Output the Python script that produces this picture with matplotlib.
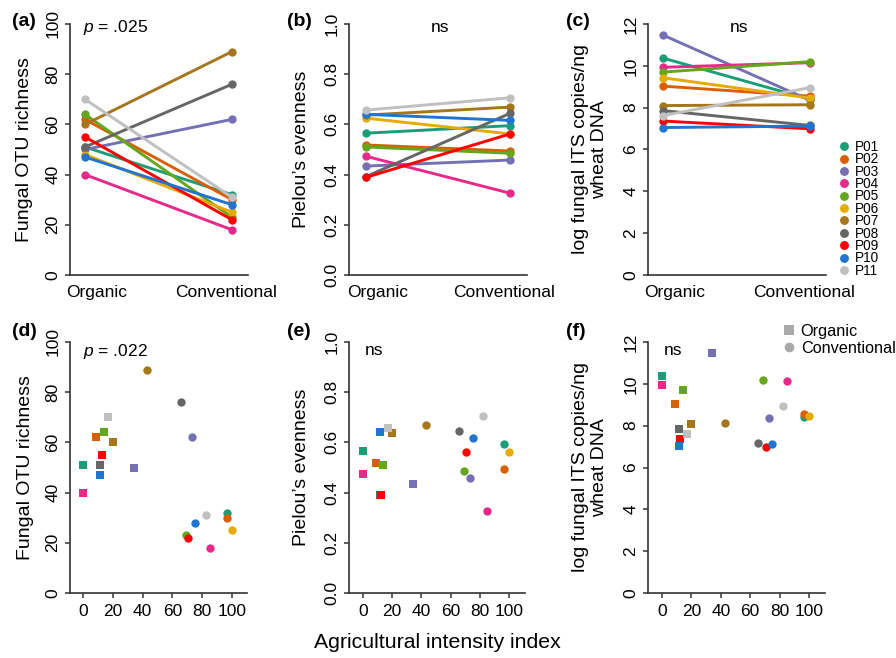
import numpy as np
import matplotlib
matplotlib.use("Agg")
import matplotlib.pyplot as plt
from matplotlib.lines import Line2D
from matplotlib.transforms import ScaledTranslation

plt.rcParams['font.family'] = ['Liberation Sans', 'DejaVu Sans']
plt.rcParams['mathtext.fontset'] = 'custom'
plt.rcParams['mathtext.it'] = 'Liberation Sans:italic'
plt.rcParams['mathtext.rm'] = 'Liberation Sans'

# ---------------- data ----------------
participants = ['P01', 'P02', 'P03', 'P04', 'P05', 'P06', 'P07', 'P08', 'P09', 'P10', 'P11']
colors = ['#1b9e77', '#d95f02', '#7570b3', '#e7298a', '#66a61e', '#e6ab02',
          '#a6761d', '#666666', '#ff0000', '#1f75d0', '#c0c0c0']
systems = ['Organic', 'Conventional']

richness_org = [51, 62, 50, 40, 64, 48, 60, 51, 55, 47, 70]
richness_conv = [32, 30, 62, 18, 23, 25, 89, 76, 22, 28, 31]

evenness_org = [0.565, 0.518, 0.434, 0.473, 0.510, 0.625, 0.637, 0.392, 0.389, 0.640, 0.657]
evenness_conv = [0.595, 0.494, 0.458, 0.326, 0.485, 0.562, 0.669, 0.644, 0.562, 0.616, 0.706]

its_org = [10.37, 9.03, 11.47, 9.93, 9.70, 9.43, 8.10, 7.86, 7.36, 7.05, 7.62]
its_conv = [8.40, 8.55, 8.35, 10.15, 10.20, 8.46, 8.14, 7.15, 6.99, 7.12, 8.96]

intensity_org = [0, 9, 34, 0, 14, np.nan, 20, 11.5, 12.5, 11.5, 17]
intensity_conv = [96.5, 96.5, 73, 85, 69, 100, 43, 65.5, 70.5, 75, 82.5]

ylabels = ['Fungal OTU richness', "Pielou\u2019s evenness", 'log fungal ITS copies/ng\nwheat DNA']
yticks_list = [np.arange(0, 101, 20), np.round(np.arange(0, 1.01, 0.2), 1), np.arange(0, 13, 2)]
ytick_fmt = ['{:.0f}', '{:.1f}', '{:.0f}']
ylims = [(0, 100), (0, 1.0), (0, 12)]
xticks_intensity = [0, 20, 40, 60, 80, 100]
annot_top = [r'$\it{p}$ = .025', 'ns', 'ns']
annot_bottom = [r'$\it{p}$ = .022', 'ns', 'ns']
panel_letters = ['(a)', '(b)', '(c)', '(d)', '(e)', '(f)']

# ---------------- layout ----------------
W, H = 896, 658
fig = plt.figure(figsize=(W / 100, H / 100), dpi=100)


def px_axes(x0, x1, y0, y1):
    return fig.add_axes([x0 / W, 1 - y1 / H, (x1 - x0) / W, (y1 - y0) / H])


spine_c = '#333333'
tick_fs = 12.5
lab_fs = 14

top_x = [(70, 248), (349, 527), (648, 826)]
top_xlim = [(0.898, 2.109), (0.882, 2.118), (0.898, 2.109)]
bot_x = [(70, 247), (349, 525), (648, 825)]
bot_xlim = [(-8.7, 110.1), (-9.5, 110.9), (-9.5, 110.9)]
ylabel_x = [25, 302, 590]

top_data = [(richness_org, richness_conv), (evenness_org, evenness_conv), (its_org, its_conv)]


def style(ax, i):
    for s in ['top', 'right']:
        ax.spines[s].set_visible(False)
    for s in ['left', 'bottom']:
        ax.spines[s].set_color(spine_c)
        ax.spines[s].set_linewidth(1.2)
    ax.set_ylim(*ylims[i])
    ax.set_yticks(yticks_list[i])
    ax.set_yticklabels([ytick_fmt[i].format(v) for v in yticks_list[i]])
    ax.tick_params(axis='y', length=3.6, width=1.1, color=spine_c, pad=3.2, labelsize=tick_fs)
    for lab in ax.get_yticklabels():
        lab.set_rotation(90)
        lab.set_va('center')
    ax.patch.set_alpha(0)


# top row
for i in range(3):
    x0, x1 = top_x[i]
    ax = px_axes(x0, x1, 24, 275)
    org, conv = top_data[i]
    for k, p in enumerate(participants):
        ax.plot([1, 2], [org[k], conv[k]], '-o', color=colors[k], lw=2.1,
                markersize=6.0, markeredgewidth=0, solid_capstyle='round', clip_on=False)
    ax.set_xlim(*top_xlim[i])
    style(ax, i)
    ax.set_xticks([1, 2])
    ax.set_xticklabels(systems)
    ax.tick_params(axis='x', length=0, pad=7.5, labelsize=tick_fs)
    offs = [0.12, -0.06]
    for lab, dx in zip(ax.get_xticklabels(), offs):
        lab.set_transform(lab.get_transform() + ScaledTranslation(dx, 0, fig.dpi_scale_trans))
    ax.set_ylabel(ylabels[i], fontsize=lab_fs, va='center')
    ax.yaxis.set_label_coords((ylabel_x[i] - x0) / (x1 - x0), 0.5)
    if i == 0:
        ax.text((83 - x0) / (x1 - x0), 0.988, annot_top[i], transform=ax.transAxes,
                ha='left', va='center', fontsize=tick_fs)
    else:
        ax.text(0.51, 0.988, annot_top[i], transform=ax.transAxes,
                ha='center', va='center', fontsize=tick_fs)
    if i == 2:
        handles = [Line2D([], [], marker='o', ls='none', color=c, markersize=6.4,
                          markeredgewidth=0) for c in colors]
        leg = ax.legend(handles, participants, loc='upper left',
                        bbox_to_anchor=(839 / W, 1 - 140 / H), bbox_transform=fig.transFigure,
                        frameon=False, fontsize=9.8, handlelength=0.8, handletextpad=0.35,
                        labelspacing=-0.12, borderpad=0, borderaxespad=0)

# bottom row
for i in range(3):
    x0, x1 = bot_x[i]
    ax = px_axes(x0, x1, 342, 593)
    org, conv = top_data[i]
    for k, p in enumerate(participants):
        ax.plot(intensity_org[k], org[k], 's', color=colors[k], markersize=6.2,
                markeredgewidth=0, clip_on=False)
    for k, p in enumerate(participants):
        ax.plot(intensity_conv[k], conv[k], 'o', color=colors[k], markersize=6.0,
                markeredgewidth=0, clip_on=False)
    ax.set_xlim(*bot_xlim[i])
    style(ax, i)
    ax.set_xticks(xticks_intensity)
    ax.tick_params(axis='x', length=3.6, width=1.1, color=spine_c, pad=4.5, labelsize=tick_fs)
    ax.set_ylabel(ylabels[i], fontsize=lab_fs, va='center')
    ax.yaxis.set_label_coords((ylabel_x[i] - x0) / (x1 - x0), 0.5)
    if i == 0:
        ax.text((83 - x0) / (x1 - x0), 0.964, annot_bottom[i], transform=ax.transAxes,
                ha='left', va='center', fontsize=tick_fs)
    else:
        ax.text(0.14, 0.966, annot_bottom[i], transform=ax.transAxes,
                ha='center', va='center', fontsize=tick_fs)
    if i == 2:
        handles = [Line2D([], [], marker='s', ls='none', color='#aaaaaa', markersize=7,
                          markeredgewidth=0),
                   Line2D([], [], marker='o', ls='none', color='#aaaaaa', markersize=7,
                          markeredgewidth=0)]
        ax.legend(handles, systems, loc='upper left',
                  bbox_to_anchor=(782 / W, 1 - 324 / H), bbox_transform=fig.transFigure,
                  frameon=False, fontsize=11.7, handlelength=0.8, handletextpad=0.35,
                  labelspacing=0.1, borderpad=0, borderaxespad=0)

fig.text(437 / W, 1 - 643 / H, 'Agricultural intensity index', ha='center', va='center',
         fontsize=15.3)

letter_pos = [(12, 21), (287, 21), (566, 21), (12, 332), (287, 332), (566, 332)]
for lt, (x, y) in zip(panel_letters, letter_pos):
    fig.text(x / W, 1 - y / H, lt, ha='left', va='center', fontsize=14, fontweight='bold')

fig.savefig('out.png', dpi=100)
